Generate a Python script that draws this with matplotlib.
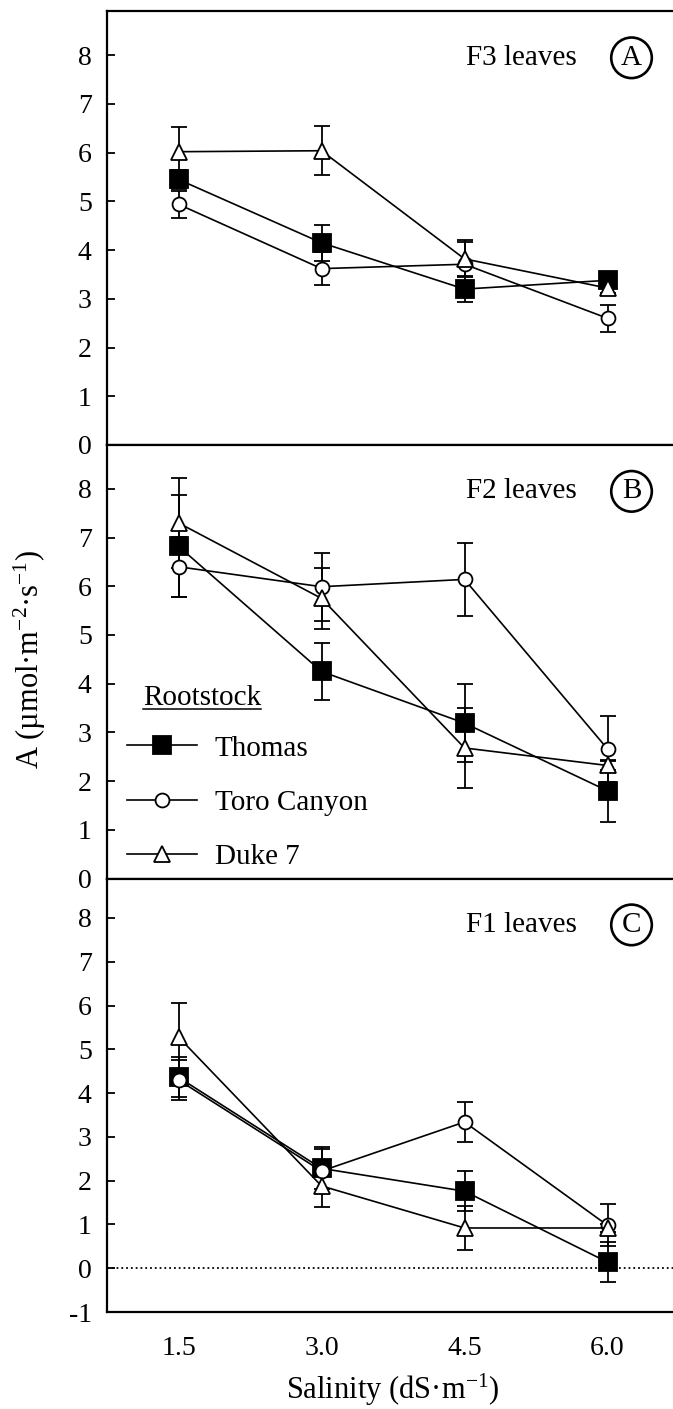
import matplotlib
matplotlib.use("Agg")
import matplotlib.pyplot as plt
from matplotlib.lines import Line2D
from matplotlib.transforms import IdentityTransform

plt.rcParams['font.family'] = ['Liberation Serif', 'DejaVu Serif']
plt.rcParams['mathtext.fontset'] = 'custom'
plt.rcParams['mathtext.rm'] = 'Liberation Serif'
plt.rcParams['mathtext.it'] = 'Liberation Serif'
plt.rcParams['axes.unicode_minus'] = False

salinity = [1.5, 3.0, 4.5, 6.0]
xtick_labels = ["1.5", "3.0", "4.5", "6.0"]
rootstocks = ["Thomas", "Toro Canyon", "Duke 7"]
panel_titles = ["F3 leaves", "F2 leaves", "F1 leaves"]
panel_letters = ["A", "B", "C"]

# Panel A: F3 leaves
thomas_f3 = [5.45, 4.15, 3.20, 3.38]
thomas_f3_err = [0.20, 0.37, 0.27, 0.12]
toro_f3 = [4.94, 3.62, 3.71, 2.60]
toro_f3_err = [0.28, 0.34, 0.45, 0.28]
duke_f3 = [6.02, 6.04, 3.82, 3.22]
duke_f3_err = [0.50, 0.50, 0.38, 0.10]

# Panel B: F2 leaves
thomas_f2 = [6.82, 4.25, 3.19, 1.80]
thomas_f2_err = [1.05, 0.58, 0.80, 0.63]
toro_f2 = [6.40, 5.99, 6.14, 2.66]
toro_f2_err = [0.62, 0.70, 0.75, 0.68]
duke_f2 = [7.30, 5.75, 2.68, 2.32]
duke_f2_err = [0.92, 0.62, 0.82, 0.10]

# Panel C: F1 leaves
thomas_f1 = [4.36, 2.28, 1.76, 0.14]
thomas_f1_err = [0.46, 0.48, 0.46, 0.46]
toro_f1 = [4.30, 2.22, 3.34, 0.98]
toro_f1_err = [0.45, 0.50, 0.45, 0.48]
duke_f1 = [5.28, 1.88, 0.92, 0.92]
duke_f1_err = [0.78, 0.48, 0.50, 0.10]

panels = [
    [(thomas_f3, thomas_f3_err), (toro_f3, toro_f3_err), (duke_f3, duke_f3_err)],
    [(thomas_f2, thomas_f2_err), (toro_f2, toro_f2_err), (duke_f2, duke_f2_err)],
    [(thomas_f1, thomas_f1_err), (toro_f1, toro_f1_err), (duke_f1, duke_f1_err)],
]
ylims = [(0, 8.9), (0, 8.9), (-1, 8.9)]
yticks = [list(range(0, 9)), list(range(0, 9)), list(range(-1, 9))]

styles = [
    dict(marker='s', markersize=13, markerfacecolor='black'),
    dict(marker='o', markersize=10, markerfacecolor='white'),
    dict(marker='^', markersize=11, markerfacecolor='white'),
]

fig = plt.figure(figsize=(6.73, 14.09), dpi=100)
left = 107 / 673
width = 572 / 673
h = 0.3077
bottoms = [0.0688 + 2 * h, 0.0688 + h, 0.0688]

axes = []
legend_handles = None
for i in range(3):
    ax = fig.add_axes([left, bottoms[i], width, h])
    axes.append(ax)
    handles = []
    for (vals, errs), st in zip(panels[i], styles):
        ax.errorbar(salinity, vals, yerr=errs, fmt='none', ecolor='black',
                    elinewidth=1.3, capsize=6, capthick=1.3, zorder=2)
        ln, = ax.plot(salinity, vals, color='black', lw=1.2,
                      markeredgecolor='black', markeredgewidth=1.3,
                      zorder=3, **st)
        handles.append(ln)
    if i == 1:
        legend_handles = handles
    ax.set_xlim(0.75, 6.75)
    ax.set_ylim(*ylims[i])
    ax.set_yticks(yticks[i])
    ax.set_yticklabels([str(t) for t in yticks[i]])
    ax.tick_params(axis='y', direction='in', length=6, width=1.3,
                   labelsize=20, pad=11)
    ax.tick_params(axis='x', length=0)
    if i < 2:
        ax.set_xticks([])
    else:
        ax.set_xticks(salinity)
        ax.set_xticklabels(xtick_labels)
        ax.tick_params(axis='x', labelsize=20, pad=17)
    for s in ['left', 'top', 'bottom']:
        ax.spines[s].set_linewidth(1.6)
    ax.spines['right'].set_visible(False)
    ax.text(0.724, 0.893, panel_titles[i], transform=ax.transAxes,
            ha='center', va='center', fontsize=21)
    ax.text(0.917, 0.893, panel_letters[i], transform=ax.transAxes,
            ha='center', va='center', fontsize=21,
            bbox=dict(boxstyle='circle,pad=0.25', fc='white', ec='black', lw=1.9))

axes[2].axhline(0, color='black', lw=1.3, linestyle=':', zorder=1)

axB = axes[1]
leg = axB.legend(legend_handles, rootstocks, loc='lower left',
                 bbox_to_anchor=(0.035, 0.02), frameon=False, fontsize=21,
                 handlelength=2.4, handletextpad=0.6, labelspacing=0.95,
                 borderpad=0, borderaxespad=0)
title_txt = axB.text(0.063, 0.416, "Rootstock", transform=axB.transAxes,
                     ha='left', va='center', fontsize=21)

fig.text(30 / 673, 1 - 660 / 1409, "A (µmol·m$^{-2}$·s$^{-1}$)", rotation=90,
         ha='center', va='center', fontsize=22)
fig.text((107 + 286) / 673, 1 - 1390 / 1409, "Salinity (dS·m$^{-1}$)",
         ha='center', va='center', fontsize=22)

fig.canvas.draw()
bb = title_txt.get_window_extent(renderer=fig.canvas.get_renderer())
fig.add_artist(Line2D([bb.x0, bb.x1], [bb.y0 + 2, bb.y0 + 2], color='black',
                      lw=1.1, transform=IdentityTransform()))

fig.savefig("out.png", dpi=100)
